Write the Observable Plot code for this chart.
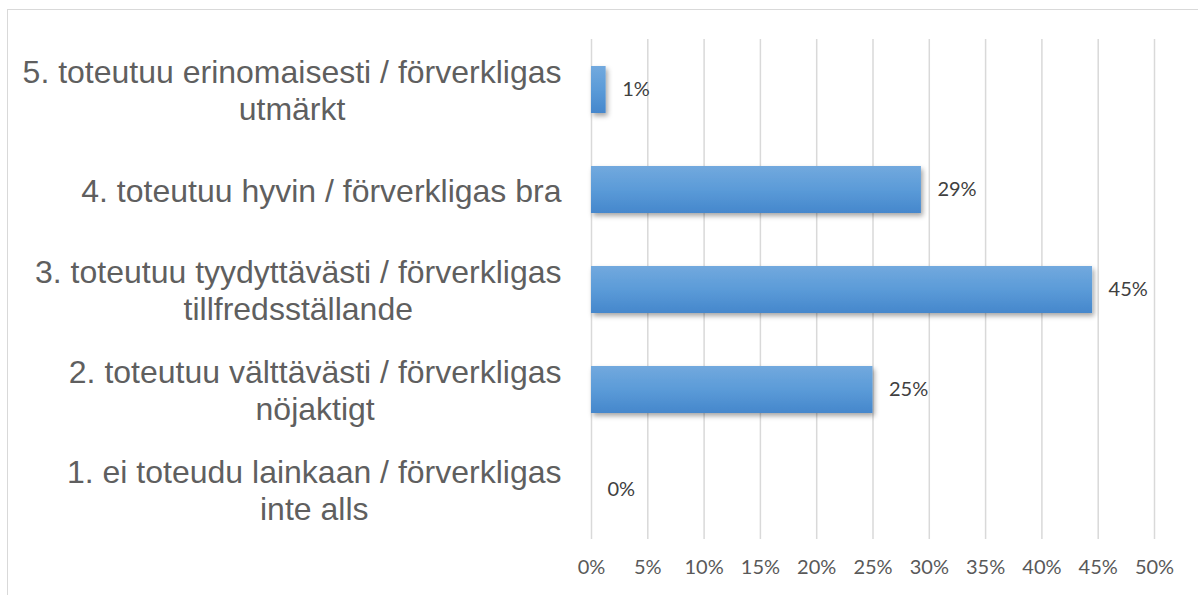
<!DOCTYPE html>
<html><head><meta charset="utf-8">
<script src="https://cdn.jsdelivr.net/npm/d3@7"></script>
<script src="https://cdn.jsdelivr.net/npm/@observablehq/plot@0.6"></script>
<style>
body{margin:0;background:#fff;overflow:hidden;}
#wrap{position:relative;width:1198px;height:595px;overflow:hidden;background:#fff;}
#frame{position:absolute;left:7px;top:9px;width:1300px;height:700px;border:1.5px solid #d9d9d9;box-sizing:border-box;}
#chart{position:absolute;left:0;top:0;}
</style></head><body>
<div id="wrap"><div id="frame"></div><div id="chart"></div></div>
<script>
// Categories, top to bottom
const categories = [
  "5. toteutuu erinomaisesti / förverkligas\nutmärkt",
  "4. toteutuu hyvin / förverkligas bra",
  "3. toteutuu tyydyttävästi / förverkligas\ntillfredsställande",
  "2. toteutuu välttävästi / förverkligas\nnöjaktigt",
  "1. ei toteudu lainkaan / förverkligas\ninte alls"
];
const values = [1.3, 29.3, 44.5, 25.0, 0];
const valueLabels = ["1%", "29%", "45%", "25%", "0%"];
const xTicks = [0, 5, 10, 15, 20, 25, 30, 35, 40, 45, 50];

const data = categories.map((c, i) => ({cat: c, value: values[i], label: valueLabels[i]}));

const catFont = "'Liberation Sans', Arial, sans-serif";
const catSize = 32;
const ctx = document.createElement("canvas").getContext("2d");
ctx.font = `${catSize}px 'Liberation Sans'`;
const blockWidth = categories.map(c => Math.max(...c.split("\n").map(l => ctx.measureText(l).width)));
const gap = 30;

const catMarks = categories.map((c, i) => Plot.text([c], {
  x: () => 0, y: d => d, text: d => d,
  textAnchor: "middle", lineAnchor: "middle", lineHeight: 1.16,
  dx: -(gap + blockWidth[i] / 2), dy: 0,
  fontSize: catSize, fontFamily: catFont, fill: "#5f5f5f"
}));

const chart = Plot.plot({
  width: 1198, height: 595,
  marginLeft: 591, marginRight: 44, marginTop: 39, marginBottom: 56,
  style: {fontFamily: "Lato, sans-serif", background: "transparent", overflow: "visible"},
  x: {domain: [0, 50], label: null},
  y: {domain: categories, paddingInner: 0.53, paddingOuter: 0.265, axis: null, label: null},
  marks: [
    Plot.gridX({ticks: xTicks, stroke: "#d9d9d9", strokeOpacity: 1, strokeWidth: 1.5}),
    Plot.axisX({ticks: xTicks, tickFormat: d => d + "%", tickSize: 0, tickPadding: 20, fontSize: 20, color: "#595959", label: null}),
    Plot.barX(data, {x: "value", y: "cat", fill: "url(#barGrad)"}),
    Plot.text(data, {x: "value", y: "cat", text: "label", dx: 16, textAnchor: "start", fontSize: 20, fill: "#404040", fontFamily: "Lato, sans-serif"}),
    ...catMarks
  ]
});

const ns = "http://www.w3.org/2000/svg";
const defs = document.createElementNS(ns, "defs");
defs.innerHTML = `
<linearGradient id="barGrad" x1="0" y1="0" x2="0" y2="1">
  <stop offset="0" stop-color="#72a9de"/>
  <stop offset="0.5" stop-color="#5b9bd8"/>
  <stop offset="1" stop-color="#4587cc"/>
</linearGradient>
<filter id="shadow" x="-20%" y="-30%" width="150%" height="180%">
  <feDropShadow dx="2" dy="3" stdDeviation="2.5" flood-color="#000" flood-opacity="0.35"/>
</filter>`;
chart.insertBefore(defs, chart.firstChild);
const barG = chart.querySelector('g[aria-label="bar"]');
if (barG) barG.setAttribute("filter", "url(#shadow)");
document.getElementById("chart").appendChild(chart);
</script>
</body></html>
